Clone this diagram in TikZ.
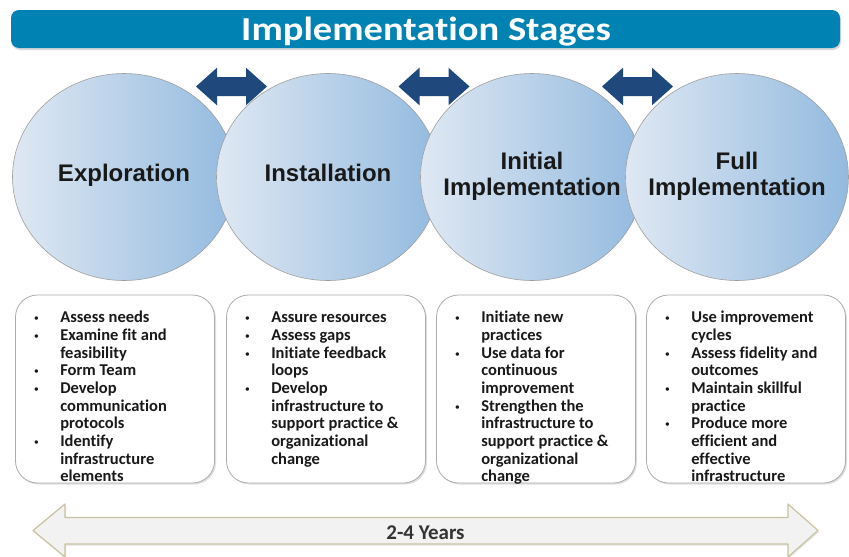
\documentclass[tikz,border=0pt]{standalone}
\usepackage{fontspec}
\setmainfont{Carlito}[Ligatures=NoCommon]
\newfontfamily\arialfont{Liberation Sans}
\usetikzlibrary{shadows,shapes.geometric}

\definecolor{titleblue}{HTML}{0083B3}
\definecolor{arrowblue}{HTML}{1F497D}
\definecolor{circleleft}{HTML}{DFE8F3}
\definecolor{circleright}{HTML}{93BADF}
\definecolor{yearsline}{HTML}{C9C29F}
\definecolor{yearsfill}{HTML}{F2F2F2}

\newcommand{\bul}{\hspace{2pt}{\arialfont\fontsize{12}{12}\selectfont\textbullet}}
\newcommand{\stagelist}[1]{%
  \fontsize{16.5}{17.7}\selectfont\bfseries
  \begin{tabular}{@{}p{28pt}@{}l@{}}#1\end{tabular}}

\begin{document}
\begin{tikzpicture}[x=1pt,y=-1pt,
    stage/.style={ellipse,draw=gray!75,line width=0.6pt,
      left color=circleleft,right color=circleright,
      minimum width=223pt,minimum height=207pt,inner sep=0pt},
    stagelabel/.style={align=center,text=black!90,
      font=\arialfont\bfseries\fontsize{24}{26}\selectfont},
    listbox/.style={draw=gray!65,fill=white,rounded corners=22pt,
      line width=0.8pt,minimum width=199pt,minimum height=188pt,
      drop shadow={shadow xshift=1.5pt,shadow yshift=-1.5pt,opacity=0.25}},
    listtext/.style={anchor=north west,inner sep=0pt,text=black!90}]
    \useasboundingbox (0,0) rectangle (849,557);

    % title bar
    \node[fill=titleblue,rounded corners=8pt,minimum width=829pt,
      minimum height=38pt,inner sep=0pt,
      drop shadow={shadow xshift=1pt,shadow yshift=-2pt,opacity=0.3}]
      (titlebar) at (425.5,29) {};
    \node[anchor=base,text=white,xscale=1.15,inner sep=0pt,
      font=\bfseries\fontsize{33.5}{36}\selectfont] (title) at (426,40)
      {Implementation Stages};

    % arrows between the stages
    \foreach \cx in {231.5,434,637.5}
      \fill[arrowblue] (\cx-35.5,86.5) -- (\cx-14.5,67.7) -- (\cx-14.5,77)
        -- (\cx+14.5,77) -- (\cx+14.5,67.7) -- (\cx+35.5,86.5)
        -- (\cx+14.5,105.3) -- (\cx+14.5,96) -- (\cx-14.5,96)
        -- (\cx-14.5,105.3) -- cycle;

    \node[stage] (explore) at (124,177) {};
    \node[stage] (install) at (328,177) {};
    \node[stage] (initial) at (532,177) {};
    \node[stage] (full) at (737,177) {};

    \node[stagelabel] (explorelbl) at ([yshift=2pt]explore.center) {Exploration};
    \node[stagelabel] (installlbl) at ([yshift=4pt]install.center) {Installation};
    \node[stagelabel] (initiallbl) at ([yshift=1pt]initial.center) {Initial\\Implementation};
    \node[stagelabel] (fulllbl) at ([yshift=1pt]full.center) {Full\\Implementation};

    % activity boxes
    \node[listbox] (box1) at (115,389) {};
    \node[listbox] (box2) at (326,389) {};
    \node[listbox] (box3) at (536,389) {};
    \node[listbox] (box4) at (746,389) {};

    \node[listtext] (list1) at ([shift={(17,15.5)}]box1.north west) {\stagelist{%
      \bul & Assess needs\\
      \bul & Examine fit and\\
      & feasibility\\
      \bul & Form Team\\
      \bul & Develop\\
      & communication\\
      & protocols\\
      \bul & Identify\\
      & infrastructure\\
      & elements}};
    \node[listtext] (list2) at ([shift={(17,15.5)}]box2.north west) {\stagelist{%
      \bul & Assure resources\\
      \bul & Assess gaps\\
      \bul & Initiate feedback\\
      & loops\\
      \bul & Develop\\
      & infrastructure to\\
      & support practice \&\\
      & organizational\\
      & change}};
    \node[listtext] (list3) at ([shift={(17,15.5)}]box3.north west) {\stagelist{%
      \bul & Initiate new\\
      & practices\\
      \bul & Use data for\\
      & continuous\\
      & improvement\\
      \bul & Strengthen the\\
      & infrastructure to\\
      & support practice \&\\
      & organizational\\
      & change}};
    \node[listtext] (list4) at ([shift={(17,15.5)}]box4.north west) {\stagelist{%
      \bul & Use improvement\\
      & cycles\\
      \bul & Assess fidelity and\\
      & outcomes\\
      \bul & Maintain skillful\\
      & practice\\
      \bul & Produce more\\
      & efficient and\\
      & effective\\
      & infrastructure}};

    % time line
    \filldraw[fill=yearsfill,draw=yearsline,line width=1.2pt,line join=round,
      drop shadow={shadow xshift=1pt,shadow yshift=-1.5pt,opacity=0.2}]
      (33,530.5) -- (65,504) -- (65,517.5) -- (788,517.5) -- (788,504)
      -- (818,530.5) -- (788,557) -- (788,544) -- (65,544) -- (65,557) -- cycle;
    \node[font=\bfseries\fontsize{21}{22}\selectfont,text=black!80] (years)
      at (425.5,533) {2-4 Years};
\end{tikzpicture}
\end{document}
